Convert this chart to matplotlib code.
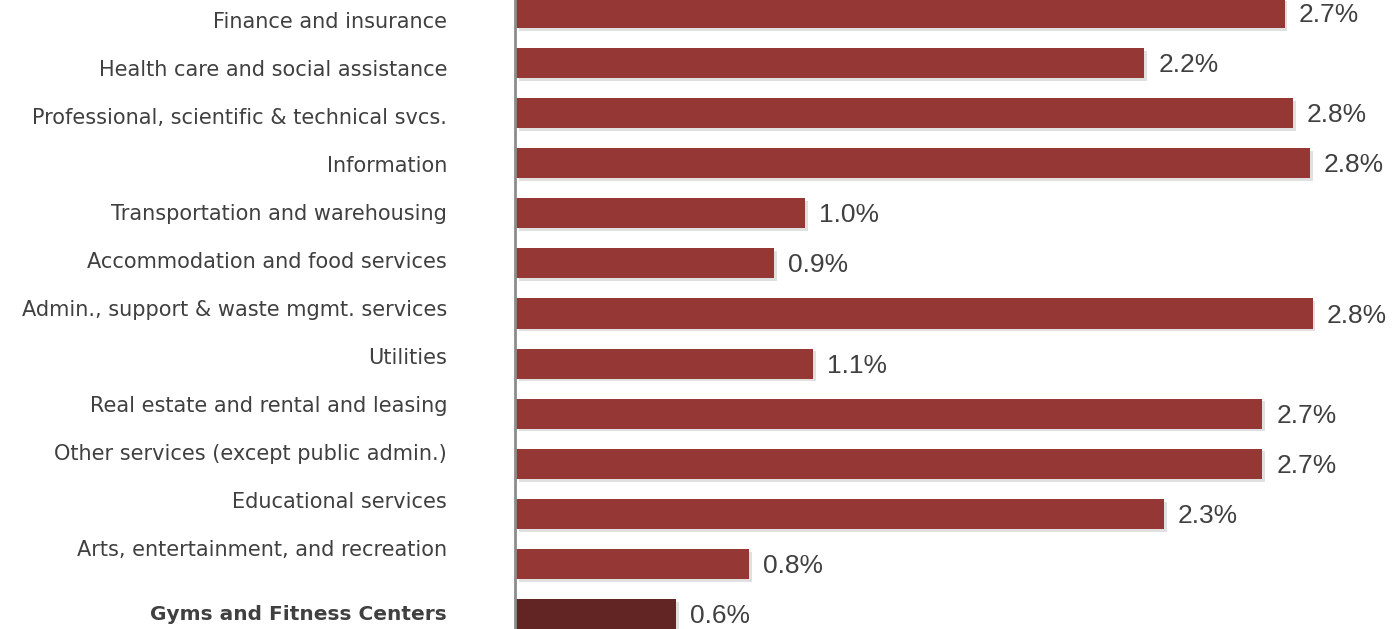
import matplotlib.pyplot as plt
import matplotlib.patheffects as pe

# industries, top to bottom
industries = ["Finance and insurance",
              "Health care and social assistance",
              "Professional, scientific & technical svcs.",
              "Information",
              "Transportation and warehousing",
              "Accommodation and food services",
              "Admin., support & waste mgmt. services",
              "Utilities",
              "Real estate and rental and leasing",
              "Other services (except public admin.)",
              "Educational services",
              "Arts, entertainment, and recreation",
              "Gyms and Fitness Centers"]
growth = [2.74, 2.24, 2.77, 2.83, 1.03, 0.92, 2.84, 1.06, 2.66, 2.66, 2.31, 0.83, 0.57]
bar_colors = ["#953735"] * 12 + ["#632523"]

plt.rcParams['font.family'] = ['Liberation Sans', 'DejaVu Sans']

fig = plt.figure(figsize=(13.96, 6.29), dpi=100)
W, H = 1396, 629
ax = fig.add_axes([516 / W, 0, 1 - 516 / W, 1])

pos = list(range(len(industries)))
bars = ax.barh(pos, growth, height=0.6, color=bar_colors, zorder=2)
for b in bars:
    b.set_path_effects([pe.SimplePatchShadow(offset=(2, -2), shadow_rgbFace='#999999', alpha=0.3),
                        pe.Normal()])

for p, v in zip(pos, growth):
    ax.text(v + 0.05, p + 0.04, f"{v:.1f}%", va='center', ha='left', fontsize=19,
            color='#404040')

ax.set_xlim(0, 880 / 280.5)
ax.set_ylim(12.30, -0.26)
ax.set_xticks([])
ax.set_yticks([])
for s in ['top', 'right', 'bottom']:
    ax.spines[s].set_visible(False)
ax.spines['left'].set_color('#8c8c8c')
ax.spines['left'].set_linewidth(2)
ax.spines['left'].set_position(('outward', 1))

# category labels sit on their own row spacing
lab = fig.add_axes([0, 0, 447 / W, 1])
lab.set_ylim(607 / 48, -22 / 48)
lab.set_xlim(0, 1)
lab.axis('off')
lab_pos = list(range(12)) + [592 / 48]
for p, name in zip(lab_pos, industries):
    bold = name.startswith("Gyms")
    lab.text(1, p, name, ha='right', va='center', fontsize=14.5 if bold else 15,
             color='#404040', family=['DejaVu Sans'],
             fontweight='bold' if bold else 'normal', clip_on=False)

fig.savefig("out.png", dpi=100)
